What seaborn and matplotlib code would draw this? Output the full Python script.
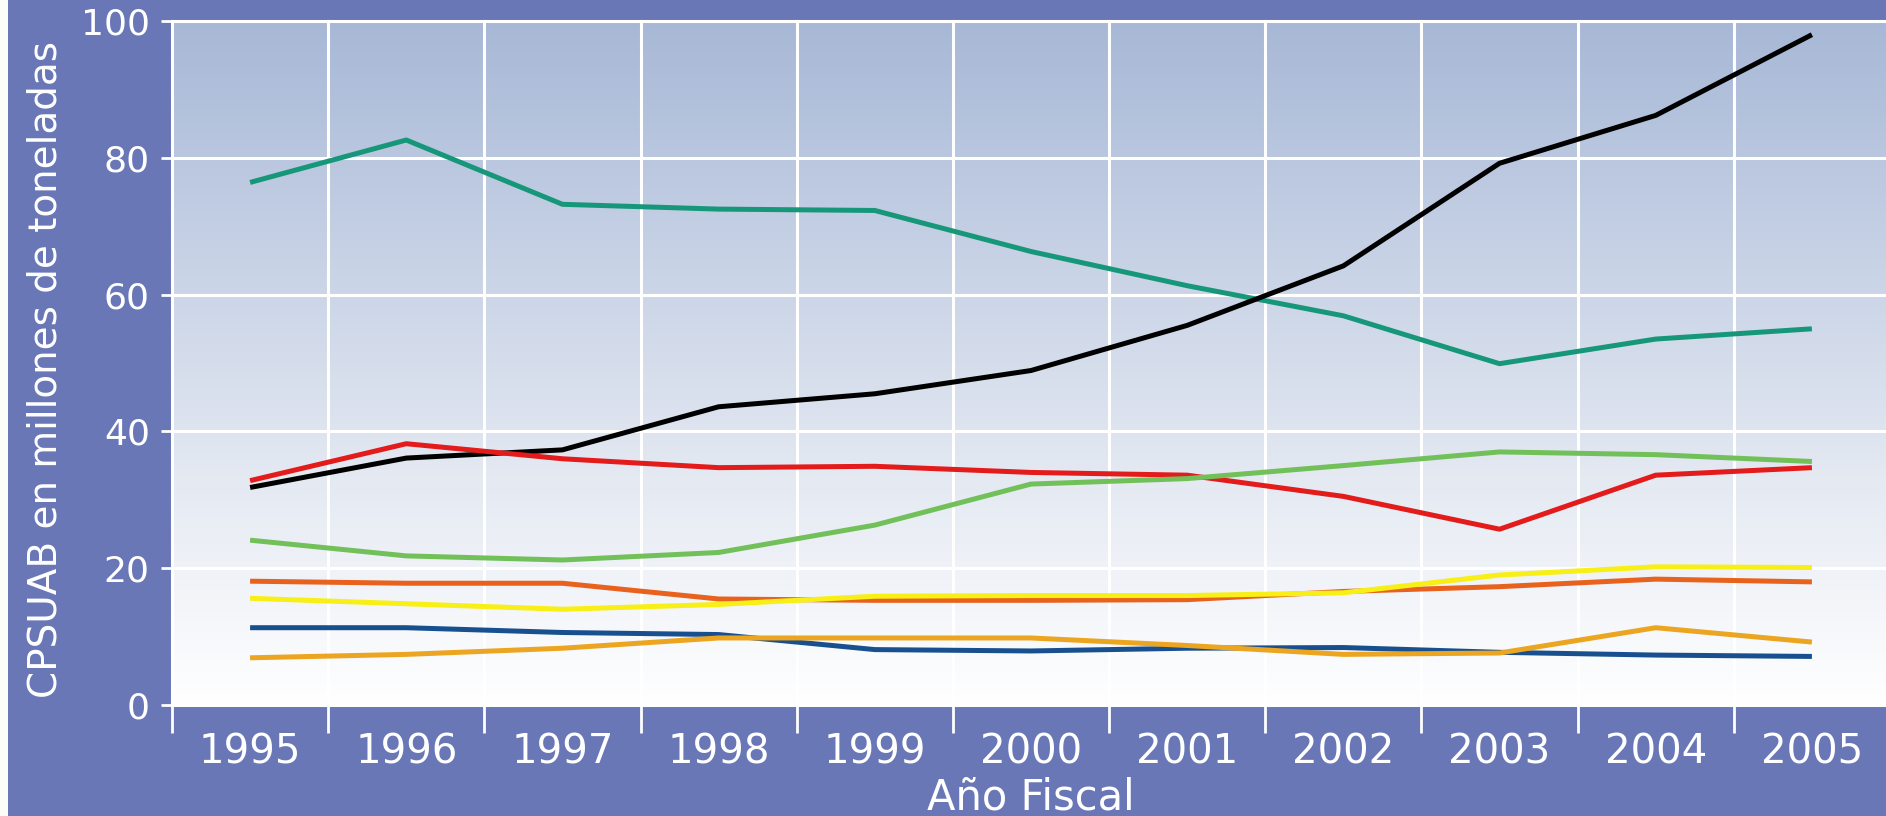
import numpy as np
import pandas as pd
import matplotlib
matplotlib.use("Agg")
import matplotlib.pyplot as plt
import seaborn as sns
from matplotlib import font_manager
from matplotlib.patches import Rectangle
from matplotlib.colors import LinearSegmentedColormap

# Datos (millones de toneladas)
anios = ["1995", "1996", "1997", "1998", "1999", "2000", "2001", "2002", "2003", "2004", "2005"]
serie_verde_azul = [76.4, 82.6, 73.2, 72.5, 72.3, 66.3, 61.3, 56.9, 49.9, 53.5, 55.0]
serie_negra = [31.8, 36.1, 37.3, 43.6, 45.5, 48.9, 55.5, 64.2, 79.2, 86.2, 98.0]
serie_roja = [32.8, 38.2, 36.0, 34.7, 34.9, 34.0, 33.6, 30.5, 25.7, 33.6, 34.7]
serie_verde = [24.1, 21.8, 21.2, 22.3, 26.3, 32.3, 33.1, 35.0, 37.0, 36.6, 35.6]
serie_naranja = [18.1, 17.8, 17.8, 15.5, 15.3, 15.3, 15.4, 16.6, 17.3, 18.4, 18.0]
serie_amarilla = [15.6, 14.8, 14.0, 14.7, 15.9, 16.0, 16.0, 16.4, 19.0, 20.2, 20.1]
serie_azul = [11.3, 11.3, 10.6, 10.3, 8.1, 7.9, 8.3, 8.4, 7.7, 7.3, 7.1]
serie_dorada = [6.9, 7.4, 8.3, 9.8, 9.8, 9.8, 8.7, 7.4, 7.6, 11.3, 9.2]

series = {
    "verde_azul": serie_verde_azul,
    "negra": serie_negra,
    "roja": serie_roja,
    "verde": serie_verde,
    "naranja": serie_naranja,
    "amarilla": serie_amarilla,
    "azul": serie_azul,
    "dorada": serie_dorada,
}
colores = {
    "verde_azul": "#17977a",
    "negra": "#000000",
    "roja": "#e31b1b",
    "verde": "#72c05a",
    "naranja": "#e8621e",
    "amarilla": "#f7ef16",
    "azul": "#18508f",
    "dorada": "#eca521",
}

filas = []
for nombre, valores in series.items():
    for i, v in enumerate(valores):
        filas.append({"serie": nombre, "x": i, "valor": v})
df = pd.DataFrame(filas)

fondo = "#6977b7"
blanco = "white"

fig = plt.figure(figsize=(18.86, 8.16), dpi=100, facecolor=fondo)
fig.patches.append(Rectangle((0, 0), 8 / 1886, 1, transform=fig.transFigure,
                             facecolor="#fdfdf7", edgecolor="none", zorder=0))
ax = fig.add_axes([172 / 1886, 111 / 816, 1718 / 1886, 684 / 816])

# fondo degradado del área de trazado
grad = np.linspace(0, 1, 256).reshape(-1, 1)
cmap = LinearSegmentedColormap.from_list("deg", ["#ffffff", "#e4e9f2", "#c6d1e5", "#a7b8d6"])
ax.imshow(grad, cmap=cmap, origin="lower", aspect="auto",
          extent=[0, 1, 0, 1], transform=ax.transAxes, zorder=0)

sns.lineplot(data=df, x="x", y="valor", hue="serie", palette=colores,
             linewidth=3.6, legend=False, ax=ax, zorder=3, solid_capstyle="butt")

ax.set_xlim(-0.5, 10.5)
ax.set_ylim(0, 100)
for s in ax.spines.values():
    s.set_visible(False)

ax.set_xticks(range(len(anios)))
ax.set_xticklabels(anios)
ax.set_xticks(np.arange(-0.5, 11, 1), minor=True)
ax.set_yticks(range(0, 101, 20))

ax.tick_params(axis="x", which="major", length=0, pad=20, labelsize=29, labelcolor=blanco)
ax.tick_params(axis="x", which="minor", length=20, width=2, color=blanco)
ax.tick_params(axis="y", which="major", length=8, width=2, color=blanco, pad=8,
               labelsize=26, labelcolor=blanco)

ax.grid(False)
ax.xaxis.grid(True, which="minor", color=blanco, linewidth=2.2, zorder=1)
ax.yaxis.grid(True, which="major", color=blanco, linewidth=2.2, zorder=1)
for t in ax.xaxis.get_minor_ticks() + ax.yaxis.get_major_ticks():
    t.gridline.set_clip_on(False)

ax.set_xlabel("Año Fiscal", fontsize=30, color=blanco, labelpad=3)

nombres = {f.name for f in font_manager.fontManager.ttflist}
if "Liberation Sans Narrow" in nombres:
    ax.set_ylabel("CPSUAB en millones de toneladas", fontsize=37, color=blanco,
                  family=["Liberation Sans Narrow", "DejaVu Sans"])
else:
    ax.set_ylabel("CPSUAB en millones de toneladas", fontsize=28, color=blanco,
                  family=["DejaVu Sans Condensed", "DejaVu Sans"])
ax.yaxis.label.set_va("center")
ax.yaxis.set_label_coords(-0.0735, 0.49)

fig.savefig("out.png", dpi=100, facecolor=fondo)
